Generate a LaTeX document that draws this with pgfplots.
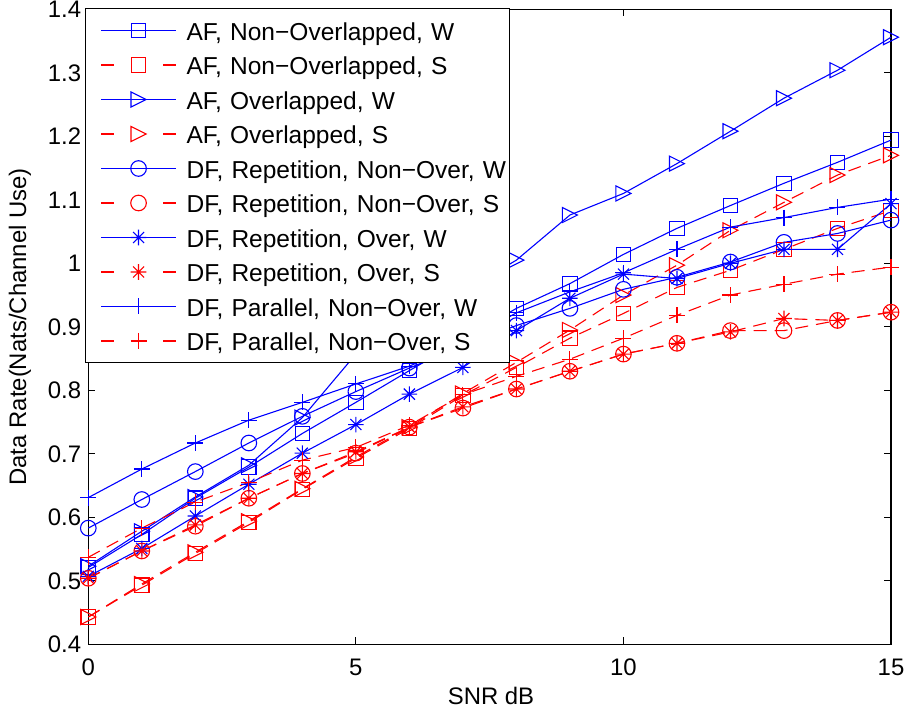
\documentclass[border=0pt]{standalone}
\usepackage{fontspec}
\setmainfont{Liberation Sans}
\usepackage{pgfplots}
\pgfplotsset{compat=1.18}

\pgfdeclareplotmark{mstar}{%
 \pgfpathmoveto{\pgfpoint{0pt}{\pgfplotmarksize}}\pgfpathlineto{\pgfpoint{0pt}{-\pgfplotmarksize}}%
 \pgfpathmoveto{\pgfpoint{\pgfplotmarksize}{0pt}}\pgfpathlineto{\pgfpoint{-\pgfplotmarksize}{0pt}}%
 \pgfpathmoveto{\pgfpoint{0.707\pgfplotmarksize}{0.707\pgfplotmarksize}}\pgfpathlineto{\pgfpoint{-0.707\pgfplotmarksize}{-0.707\pgfplotmarksize}}%
 \pgfpathmoveto{\pgfpoint{-0.707\pgfplotmarksize}{0.707\pgfplotmarksize}}\pgfpathlineto{\pgfpoint{0.707\pgfplotmarksize}{-0.707\pgfplotmarksize}}%
 \pgfusepathqstroke}
\pgfdeclareplotmark{tright}{%
 \pgfpathmoveto{\pgfpoint{-\pgfplotmarksize}{\pgfplotmarksize}}%
 \pgfpathlineto{\pgfpoint{\pgfplotmarksize}{0pt}}%
 \pgfpathlineto{\pgfpoint{-\pgfplotmarksize}{-\pgfplotmarksize}}%
 \pgfpathclose\pgfusepathqstroke}

\pgfplotsset{
 bl/.style={color=blue, line width=1.1bp, solid, mark options={solid}},
 rd/.style={color=red, line width=1.1bp, dash pattern=on 13bp off 8bp, mark options={solid},
   legend image code/.code={\path (0bp,0bp); \draw[mark repeat=2,mark phase=2,##1,dash pattern=on 13bp off 49bp] plot coordinates {(12bp,0bp) (49.5bp,0bp) (87bp,0bp)};}},
 msq/.style={mark=square, mark size=7.2bp},
 mtr/.style={mark=tright, mark size=7.5bp},
 mci/.style={mark=o, mark size=7.8bp},
 mst/.style={mark=mstar, mark size=7.8bp},
 mpl/.style={mark=+, mark size=8bp},
}

\begin{document}
\begin{tikzpicture}
\begin{axis}[
 scale only axis, width=802.7bp, height=635bp,
 xmin=0, xmax=15, ymin=0.4, ymax=1.4,
 xtick={0,5,10,15},
 ytick={0.4,0.5,0.6,0.7,0.8,0.9,1,1.1,1.2,1.3,1.4},
 clip=false,
 axis line style={line width=1.2bp},
 tick style={black, line width=1bp},
 major tick length=7bp, tick align=inside,
 /pgf/number format/assume math mode=true,
 ticklabel style={font=\fontsize{24}{28}\selectfont},
 yticklabel style={inner sep=0pt, anchor=east, xshift=-7bp},
 xticklabel style={inner sep=0pt, anchor=north, yshift=-14.7bp},
 label style={font=\fontsize{24}{28}\selectfont},
 xlabel={SNR dB},
 ylabel={Data Rate(Nats/Channel Use)},
 xlabel style={at={(axis description cs:0.5017,0)}, anchor=base, yshift=-59.7bp},
 ylabel style={at={(axis description cs:-0.0851,0.5)}, anchor=center},
 legend image code/.code={\path (0bp,0bp); \draw[mark repeat=2,mark phase=2,#1] plot coordinates {(12bp,0bp) (49.5bp,0bp) (87bp,0bp)};},
 legend cell align=left,
 legend style={at={(axis description cs:0,1)}, anchor=north west, xshift=-3.3bp, yshift=1.3bp,
   draw=black, line width=1bp, fill=white, inner xsep=3bp, inner ysep=7bp, row sep=4.5bp,
   font=\fontsize{24.6}{29}\selectfont,
   /tikz/every odd column/.append style={column sep=10bp},
   /tikz/every even column/.append style={nodes={inner sep=0pt, text height=25bp, text depth=5bp, text width=320bp}}},
]
\addplot[bl,msq] coordinates {(0,0.521)(1,0.573)(2,0.630)(3,0.679)(4,0.732)(5,0.781)(6,0.831)(7,0.880)(8,0.929)(9,0.968)(10,1.014)(11,1.055)(12,1.091)(13,1.126)(14,1.159)(15,1.194)};
\addlegendentry{AF, Non−Overlapped, W}
\addplot[rd,msq] coordinates {(0,0.443)(1,0.493)(2,0.543)(3,0.592)(4,0.644)(5,0.693)(6,0.740)(7,0.792)(8,0.836)(9,0.882)(10,0.921)(11,0.962)(12,0.989)(13,1.022)(14,1.055)(15,1.083)};
\addlegendentry{AF, Non−Overlapped, S}
\addplot[bl,mtr] coordinates {(0,0.523)(1,0.578)(2,0.632)(3,0.682)(4,0.757)(5,0.857)(6,0.905)(7,0.955)(8,1.005)(9,1.076)(10,1.110)(11,1.157)(12,1.208)(13,1.260)(14,1.304)(15,1.356)};
\addlegendentry{AF, Overlapped, W}
\addplot[rd,mtr] coordinates {(0,0.443)(1,0.495)(2,0.545)(3,0.594)(4,0.645)(5,0.695)(6,0.742)(7,0.795)(8,0.844)(9,0.895)(10,0.950)(11,0.997)(12,1.052)(13,1.096)(14,1.139)(15,1.170)};
\addlegendentry{AF, Overlapped, S}
\addplot[bl,mci] coordinates {(0,0.583)(1,0.628)(2,0.672)(3,0.717)(4,0.759)(5,0.798)(6,0.835)(7,0.870)(8,0.902)(9,0.929)(10,0.959)(11,0.978)(12,1.002)(13,1.033)(14,1.047)(15,1.068)};
\addlegendentry{DF, Repetition, Non−Over, W}
\addplot[rd,mci] coordinates {(0,0.504)(1,0.547)(2,0.586)(3,0.630)(4,0.669)(5,0.701)(6,0.742)(7,0.772)(8,0.802)(9,0.830)(10,0.857)(11,0.874)(12,0.894)(13,0.894)(14,0.910)(15,0.923)};
\addlegendentry{DF, Repetition, Non−Over, S}
\addplot[bl,mst] coordinates {(0,0.507)(1,0.551)(2,0.602)(3,0.652)(4,0.701)(5,0.746)(6,0.794)(7,0.836)(8,0.894)(9,0.945)(10,0.983)(11,0.976)(12,1.000)(13,1.022)(14,1.022)(15,1.094)};
\addlegendentry{DF, Repetition, Over, W}
\addplot[rd,mst] coordinates {(0,0.504)(1,0.547)(2,0.588)(3,0.630)(4,0.669)(5,0.703)(6,0.742)(7,0.774)(8,0.802)(9,0.830)(10,0.857)(11,0.874)(12,0.892)(13,0.913)(14,0.910)(15,0.923)};
\addlegendentry{DF, Repetition, Over, S}
\addplot[bl,mpl] coordinates {(0,0.631)(1,0.676)(2,0.717)(3,0.753)(4,0.781)(5,0.810)(6,0.838)(7,0.875)(8,0.922)(9,0.955)(10,0.985)(11,1.022)(12,1.057)(13,1.072)(14,1.088)(15,1.101)};
\addlegendentry{DF, Parallel, Non−Over, W}
\addplot[rd,mpl] coordinates {(0,0.537)(1,0.583)(2,0.624)(3,0.655)(4,0.690)(5,0.710)(6,0.745)(7,0.793)(8,0.822)(9,0.849)(10,0.882)(11,0.918)(12,0.950)(13,0.967)(14,0.983)(15,0.994)};
\addlegendentry{DF, Parallel, Non−Over, S}
\end{axis}
\pgfresetboundingbox
\path (-88.3bp,-70.7bp) rectangle (821.7bp,644.3bp);
\end{tikzpicture}
\end{document}
